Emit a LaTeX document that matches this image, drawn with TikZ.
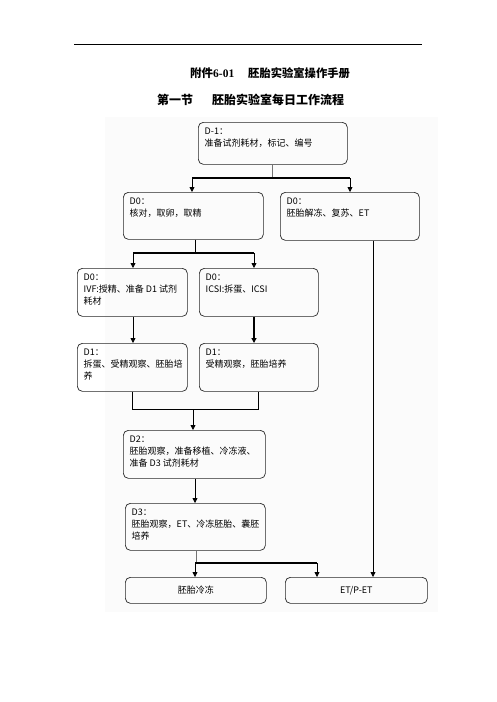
\documentclass[tikz,border=0pt]{standalone}
\usepackage{fontspec}
\newfontfamily\cjk{Noto Sans CJK SC}
\newfontfamily\serifl{Liberation Serif}
\usetikzlibrary{arrows.meta}
\tikzset{
  boxsty/.style={draw=black!85, line width=0.7pt, rounded corners=5pt, inner sep=0pt},
  boxtext/.style={inner sep=0pt, align=left, font=\cjk\fontsize{9}{12.3}\selectfont},
  ctext/.style={font=\cjk\fontsize{9}{12}\selectfont},
  lineA/.style={draw=black!55, line width=0.8pt},
  lineC/.style={draw=black, line width=0.8pt},
  lineB/.style={draw=black, line width=1.6pt},
  arrowed/.style={-{Triangle[width=5pt,length=5pt]}},
  titlesty/.style={inner sep=0pt, anchor=west, font=\cjk\bfseries\fontsize{11.5}{14}\selectfont}
}
\newcommand\fbx[6]{%
  \node[boxsty, anchor=north west, minimum width=#4pt, minimum height=#5pt] (#1) at (#2,#3) {};
  \node[boxtext, anchor=north west] (#1t) at ([xshift=6.5pt,yshift=-5.5pt]#1.north west) {#6};
}
\begin{document}
\begin{tikzpicture}[x=1pt,y=-1pt]
\useasboundingbox (0,0) rectangle (496,702);
\fill[white] (0,0) rectangle (496,702);
\fill[black!1.5] (105,117) rectangle (438,612);
% header rule
\coordinate (hl) at (74,44);
\coordinate (hr) at (422,44);
\draw[line width=0.8pt] (hl) -- (hr);
% titles
\node[titlesty] (t1a) at (190,73) {附件{\serifl\bfseries 6-01}};
\node[titlesty, font=\cjk\bfseries\fontsize{11.3}{14}\selectfont] (t1b) at (248,73) {胚胎实验室操作手册};
\node[titlesty, font=\cjk\bfseries\fontsize{12}{14}\selectfont] (t2a) at (157,100) {第一节};
\node[titlesty, font=\cjk\bfseries\fontsize{12}{14}\selectfont] (t2b) at (212,100) {胚胎实验室每日工作流程};
% boxes
\fbx{dm1}{198}{122}{149}{42}{D-1：\\准备试剂耗材，标记、编号}
\fbx{d0a}{123}{192}{140}{47}{D0：\\核对，取卵，取精}
\fbx{d0b}{280}{192}{139}{48}{D0：\\胚胎解冻、复苏、ET}
\fbx{ivf}{77}{268}{110}{48}{D0：\\IVF:授精、准备 D1 试剂\\耗材}
\fbx{icsi}{199}{268}{119}{48}{D0：\\ICSI:拆蛋、ICSI}
\fbx{d1a}{77}{343}{110}{48}{D1：\\拆蛋、受精观察、胚胎培\\养}
\fbx{d1b}{199}{343}{119}{48}{D1：\\受精观察，胚胎培养}
\fbx{d2}{123}{430}{142}{48}{D2：\\胚胎观察，准备移植、冷冻液、\\准备 D3 试剂耗材}
\fbx{d3}{125}{503}{140}{47}{D3：\\胚胎观察，ET、冷冻胚胎、囊胚\\培养}
\node[boxsty, ctext, anchor=north west, minimum width=141pt, minimum height=26pt] (frz) at (125,577) {胚胎冷冻};
\node[boxsty, ctext, anchor=north west, minimum width=142pt, minimum height=26pt] (et) at (285,577) {ET/P-ET};
% level 1 connectors
\coordinate (j1l) at (192,178);
\coordinate (j1r) at (350,178);
\draw[lineA] (dm1.south) -- (dm1.south |- j1l);
\draw[lineB] (j1l) -- (j1r);
\draw[lineC, arrowed] (j1l) -- (d0a.north -| j1l);
\draw[lineC, arrowed] (j1r) -- (d0b.north -| j1r);
% level 2 connectors
\coordinate (j2) at (195,253);
\coordinate (j2l) at (133,253);
\coordinate (j2r) at (254,253);
\draw[lineC] (d0a.south -| j2) -- (j2);
\draw[lineB] (j2l) -- (j2r);
\draw[lineC, arrowed] (j2l) -- (ivf.north -| j2l);
\draw[lineC, arrowed] (j2r) -- (icsi.north -| j2r);
\draw[lineC, arrowed] (ivf.south -| j2l) -- (d1a.north -| j2l);
\draw[lineB, arrowed] (icsi.south -| j2r) -- (d1b.north -| j2r);
% bracket to D2
\coordinate (j3l) at (132,409);
\coordinate (j3r) at (258,409);
\coordinate (j3m) at (193,409);
\draw[lineC] (d1a.south -| j3l) -- (j3l) -- (j3r) -- (d1b.south -| j3r);
\draw[lineC, arrowed] (j3m) -- (d2.north -| j3m);
% D2 to D3
\coordinate (c4) at (195,490);
\draw[lineC, arrowed] (d2.south -| c4) -- (d3.north -| c4);
% D3 to final
\coordinate (j5) at (196,563);
\coordinate (j5l) at (195,563);
\coordinate (j5r) at (317,563);
\draw[lineA] (d3.south -| j5) -- (j5);
\draw[lineB] (j5l) -- (j5r);
\draw[lineC, arrowed] (j5l) -- (frz.north -| j5l);
\draw[lineC, arrowed] (j5r) -- (et.north -| j5r);
% right long line
\coordinate (c6) at (373,400);
\draw[lineC, arrowed] (d0b.south -| c6) -- (et.north -| c6);
\end{tikzpicture}
\end{document}
